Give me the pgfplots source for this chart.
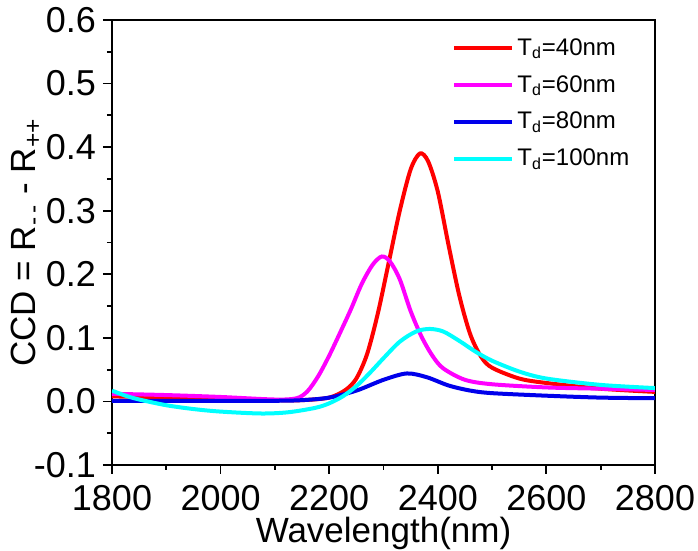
\documentclass[border=0pt]{standalone}
\usepackage{pgfplots}
\pgfplotsset{compat=1.18}
\usepackage{fontspec}
\setmainfont{Liberation Sans}
\definecolor{cred}{RGB}{255,0,0}
\definecolor{cmag}{RGB}{255,0,255}
\definecolor{cblue}{RGB}{0,0,235}
\definecolor{ccyan}{RGB}{0,255,255}

\begin{document}
\begin{tikzpicture}
\begin{axis}[
  name=ax,
  scale only axis,
  width=271.5pt,height=222.5pt,
  xmin=1800,xmax=2800,ymin=-0.1,ymax=0.6,
  xtick={1800,2000,2200,2400,2600,2800},
  ytick={-0.1,0,0.1,0.2,0.3,0.4,0.5,0.6},
  minor x tick num=1, minor y tick num=1,
  xtick pos=bottom, ytick pos=left,
  tick align=outside,
  major tick length=4.5pt, minor tick length=2.5pt,
  axis line style={line width=0.9pt},
  every tick/.style={line width=0.9pt,black},
  /pgf/number format/assume math mode=true,
  ticklabel style={font=\fontsize{18}{20}\selectfont},
  xticklabel style={/pgf/number format/1000 sep={},yshift=-2.2pt},
  yticklabel style={/pgf/number format/.cd,fixed,fixed zerofill,precision=1},
  xlabel={Wavelength(nm)},
  ylabel={CCD = R\textsubscript{-\,-} - R\textsubscript{++}},
  label style={font=\fontsize{17.5}{19}\selectfont},
  xlabel style={inner sep=0pt,yshift=0.3pt},
  ylabel style={yshift=-10.5pt},
  legend style={draw=none,fill=none,at={(0.97,0.975)},anchor=north east,
    font=\fontsize{12}{13}\selectfont,row sep=5.5pt,
    nodes={inner sep=1.5pt}},
  legend cell align=left,
  legend image code/.code={\draw[#1,line width=2pt] (0pt,0pt) -- (29pt,0pt);},
  every axis plot/.append style={line width=2pt,smooth,tension=0.5},
]
\addplot[cred] coordinates {
  (1800,0.008)(1900,0.006)(2000,0.004)(2100,0.002)(2150,0.002)(2200,0.006)
  (2230,0.018)(2250,0.036)(2270,0.075)(2290,0.140)(2310,0.220)(2330,0.300)
  (2350,0.365)(2367,0.390)(2382,0.378)(2400,0.330)(2420,0.245)(2440,0.165)
  (2460,0.105)(2480,0.070)(2500,0.053)(2550,0.036)(2600,0.029)(2700,0.020)
  (2800,0.015)};
\addplot[cmag] coordinates {
  (1800,0.012)(1900,0.010)(2000,0.007)(2100,0.003)(2140,0.005)(2160,0.016)
  (2180,0.040)(2200,0.072)(2220,0.108)(2240,0.145)(2260,0.185)(2280,0.215)
  (2297,0.228)(2312,0.220)(2330,0.192)(2350,0.142)(2370,0.102)(2390,0.072)
  (2410,0.052)(2450,0.034)(2500,0.027)(2600,0.022)(2700,0.020)(2800,0.018)};
\addplot[cblue] coordinates {
  (1800,0.001)(1900,0.001)(2000,0.001)(2100,0.001)(2150,0.002)(2200,0.006)
  (2250,0.017)(2300,0.034)(2343,0.044)(2380,0.038)(2420,0.025)(2460,0.017)
  (2500,0.013)(2600,0.009)(2700,0.006)(2800,0.005)};
\addplot[ccyan] coordinates {
  (1800,0.017)(1825,0.009)(1850,0.003)(1900,-0.006)(1950,-0.012)(2000,-0.016)
  (2075,-0.019)(2125,-0.017)(2175,-0.010)(2200,-0.003)(2225,0.008)(2250,0.024)
  (2275,0.045)(2300,0.068)(2330,0.094)(2360,0.110)(2385,0.114)(2410,0.110)
  (2440,0.095)(2470,0.078)(2500,0.064)(2550,0.047)(2600,0.036)(2700,0.026)
  (2800,0.021)};
\legend{T\textsubscript{d}=40nm,T\textsubscript{d}=60nm,T\textsubscript{d}=80nm,T\textsubscript{d}=100nm}
\end{axis}
\pgfresetboundingbox
\path ([shift={(-56pt,-43pt)}]ax.south west) rectangle ([shift={(21.5pt,10pt)}]ax.north east);
\end{tikzpicture}
\end{document}
